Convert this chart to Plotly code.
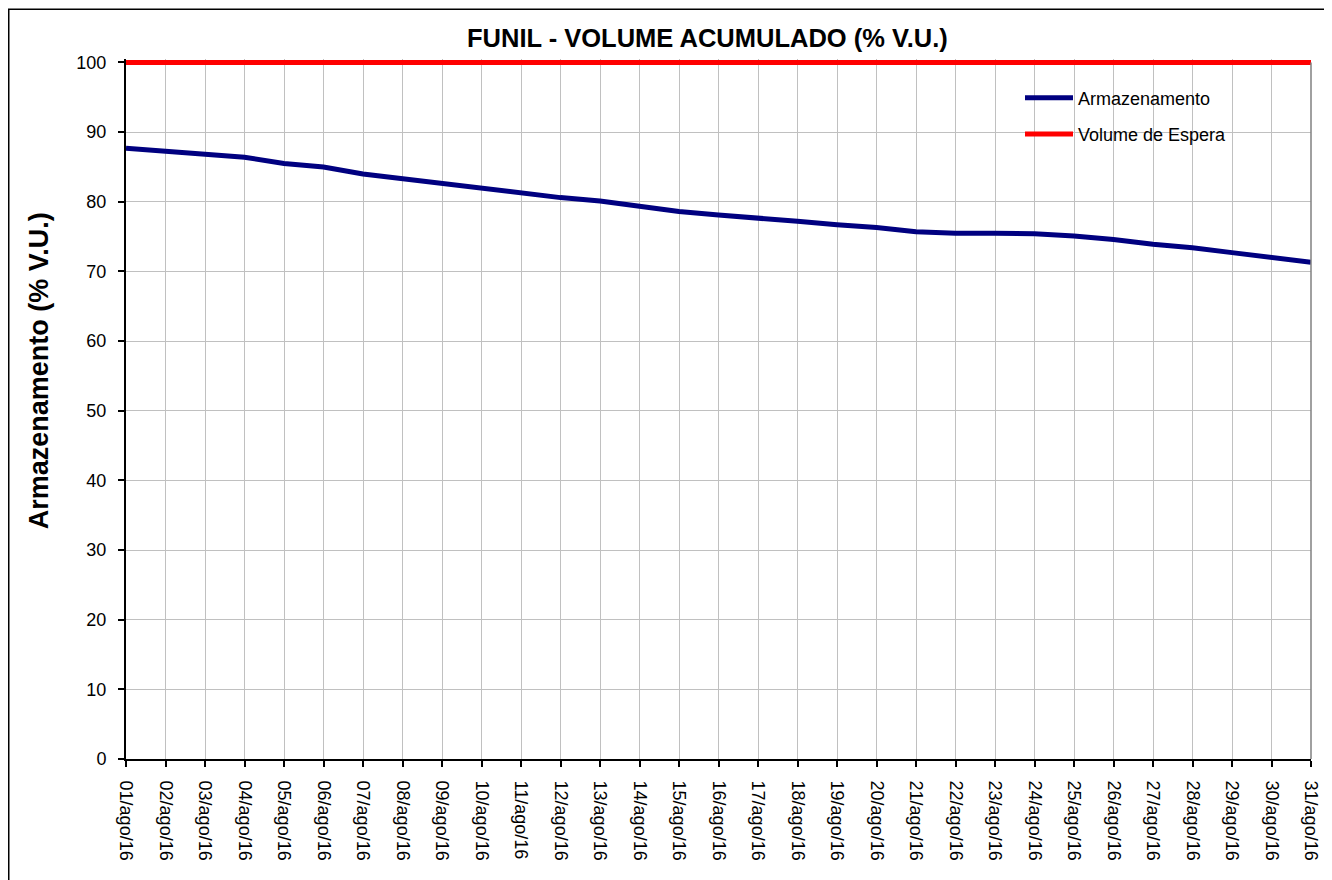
import plotly.graph_objects as go

dates = [f"{d:02d}/ago/16" for d in range(1, 32)]
armazenamento = [87.7, 87.3, 86.8, 86.4, 85.5, 85.0, 84.0, 83.3, 82.6, 82.0,
                 81.3, 80.6, 80.1, 79.3, 78.6, 78.1, 77.7, 77.2, 76.7, 76.3,
                 75.7, 75.5, 75.5, 75.4, 75.1, 74.6, 73.9, 73.4, 72.7, 72.0, 71.3]
volume_espera = [100] * 31
y_ticks = list(range(0, 101, 10))

# page has an 8px body margin; figure coordinates = page coordinates - 8
OFF = 8
W, H = 1324, 872
L = 126 - OFF
R = W - (1311 - OFF)
T = 58.5 - OFF
B = H - (759 - OFF)
pw, ph = W - L - R, H - T - B

def px(xpage):
    return (xpage - OFF - L) / pw

def py(ypage):
    return (H - B - (ypage - OFF)) / ph

FONT = "Liberation Sans, Arial, sans-serif"

fig = go.Figure()
fig.add_trace(go.Scatter(x=dates, y=armazenamento, mode="lines", name="Armazenamento",
                         legendgroup="a", line=dict(color="#000080", width=5)))
fig.add_trace(go.Scatter(x=dates, y=volume_espera, mode="lines", name="Volume de Espera",
                         legendgroup="b", line=dict(color="#ff0000", width=5)))

fig.update_layout(
    width=W, height=H,
    margin=dict(l=L, r=R, t=T, b=B, pad=0),
    paper_bgcolor="white", plot_bgcolor="white",
    font=dict(family=FONT, color="black", size=16),
    showlegend=True,
    legend=dict(x=px(1020), y=py(79), xanchor="left", yanchor="top",
                bgcolor="rgba(0,0,0,0)", borderwidth=0,
                font=dict(size=18, family=FONT),
                traceorder="grouped", tracegroupgap=10, itemwidth=48),
    xaxis=dict(type="category", range=[0, 30], tickangle=90,
               showgrid=True, gridcolor="#c0c0c0", gridwidth=1,
               showline=True, linecolor="black", linewidth=2,
               ticks="outside", ticklen=6, tickcolor="black", tickwidth=1.5,
               ticklabelstandoff=10,
               tickfont=dict(size=18, family=FONT), zeroline=False),
    yaxis=dict(range=[0, 100.5], tickvals=y_ticks, ticktext=[str(v) for v in y_ticks],
               showgrid=True, gridcolor="#c0c0c0", gridwidth=1,
               showline=True, linecolor="black", linewidth=2,
               ticks="outside", ticklen=6, tickcolor="black", tickwidth=1.5,
               ticklabelstandoff=8,
               tickfont=dict(size=18, family=FONT), zeroline=False),
    annotations=[
        dict(text="<b>FUNIL - VOLUME ACUMULADO (% V.U.)</b>", xref="paper", yref="paper",
             x=px(707), y=py(37), xanchor="center", yanchor="middle", showarrow=False,
             font=dict(size=25.5, family=FONT, color="black")),
        dict(text="<b>Armazenamento (% V.U.)</b>", xref="paper", yref="paper",
             x=px(39), y=py(371), xanchor="center", yanchor="middle", showarrow=False,
             textangle=-90, font=dict(size=27, family=FONT, color="black")),
    ],
    shapes=[
        dict(type="rect", xref="paper", yref="paper",
             x0=px(OFF + 0.75), x1=px(1360), y0=py(900), y1=py(OFF + 0.75),
             line=dict(color="black", width=1.5), fillcolor="rgba(0,0,0,0)", layer="below"),
        dict(type="rect", xref="paper", yref="paper",
             x0=px(1003), x1=px(1252), y0=py(152), y1=py(77),
             line=dict(width=0), fillcolor="white", layer="between"),
        dict(type="line", xref="paper", yref="paper", x0=1, x1=1, y0=0, y1=py(62),
             line=dict(color="#808080", width=1.5)),
    ],
)

fig.write_html("out.html")
